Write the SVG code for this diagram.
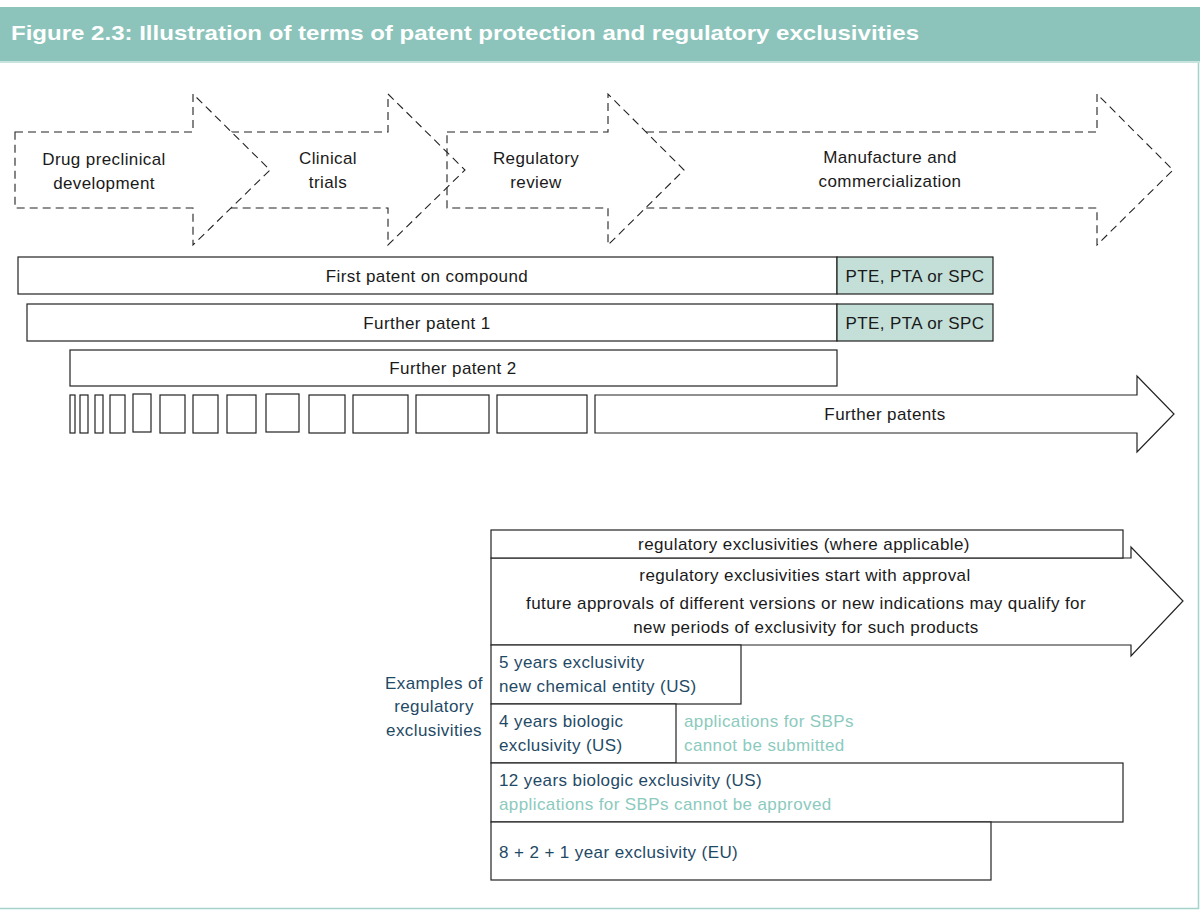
<svg xmlns="http://www.w3.org/2000/svg" width="1200" height="911" viewBox="0 0 1200 911">
<style>
.t{font-family:"Liberation Sans",Arial,sans-serif;font-size:17px;letter-spacing:0.4px;fill:#1a1a1a}
.c{text-anchor:middle}
.d{fill:#fff;stroke:#222;stroke-width:1.1;stroke-dasharray:8,5}
.b{fill:#fff;stroke:#222;stroke-width:1.2}
.p{fill:#c3dfd8;stroke:#222;stroke-width:1.2}
.n{fill:#1f4a66}
.l{fill:#8ccabe}
</style>
<rect x="0" y="0" width="1200" height="911" fill="#fff"/>
<rect x="0" y="7" width="1200" height="54" fill="#8cc4bb"/>
<rect x="0" y="61" width="1200" height="2" fill="#c7e4df"/>
<path d="M1198.5,63 V908.5 H0" fill="none" stroke="#a3d3ca" stroke-width="1.5"/>
<text x="11" y="40" font-family="Liberation Sans,Arial,sans-serif" font-weight="bold" font-size="21" fill="#fff" textLength="908" lengthAdjust="spacingAndGlyphs">Figure 2.3: Illustration of terms of patent protection and regulatory exclusivities</text>

<g id="phase-manufacture">
<path class="d" d="M646,132 L1097,132 L1097,94 L1173,170 L1097,245 L1097,208 L646,208"/>
<text class="t c" x="890" y="163">Manufacture and</text>
<text class="t c" x="890" y="187">commercialization</text>
</g>
<g id="phase-regulatory">
<path class="d" d="M447,132 L608,132 L608,94 L684,170 L608,245 L608,208 L447,208 Z"/>
<text class="t c" x="536" y="164">Regulatory</text>
<text class="t c" x="536" y="188">review</text>
</g>
<g id="phase-clinical">
<path class="d" style="fill:none" d="M231,132 L388,132 L388,94 L465,170 L388,245 L388,208 L231,208"/>
<text class="t c" x="328" y="164">Clinical</text>
<text class="t c" x="328" y="188">trials</text>
</g>
<g id="phase-preclinical">
<path class="d" d="M15,132 L193,132 L193,94 L270,170 L193,245 L193,208 L15,208 Z"/>
<text class="t c" x="104" y="165">Drug preclinical</text>
<text class="t c" x="104" y="189">development</text>
</g>

<g id="first-patent">
<rect class="b" x="18" y="257" width="819" height="37"/>
<text class="t c" x="427" y="282">First patent on compound</text>
</g>
<g id="pte-1">
<rect class="p" x="837" y="257" width="156" height="37"/>
<text class="t c" x="915" y="282">PTE, PTA or SPC</text>
</g>
<g id="further-patent-1">
<rect class="b" x="27" y="304" width="810" height="37"/>
<text class="t c" x="427" y="329">Further patent 1</text>
</g>
<g id="pte-2">
<rect class="p" x="837" y="304" width="156" height="37"/>
<text class="t c" x="915" y="329">PTE, PTA or SPC</text>
</g>
<g id="further-patent-2">
<rect class="b" x="70" y="350" width="767" height="36"/>
<text class="t c" x="453" y="374">Further patent 2</text>
</g>
<g id="small-patents">
<rect class="b" x="70" y="395" width="5" height="38"/>
<rect class="b" x="80" y="395" width="8" height="38"/>
<rect class="b" x="95" y="395" width="8" height="38"/>
<rect class="b" x="110" y="395" width="15" height="38"/>
<rect class="b" x="133" y="394" width="18" height="38"/>
<rect class="b" x="160" y="395" width="25" height="38"/>
<rect class="b" x="193" y="395" width="25" height="38"/>
<rect class="b" x="227" y="395" width="29" height="38"/>
<rect class="b" x="266" y="394" width="33" height="38"/>
<rect class="b" x="309" y="395" width="36" height="38"/>
<rect class="b" x="353" y="395" width="55" height="38"/>
<rect class="b" x="416" y="395" width="73" height="38"/>
<rect class="b" x="497" y="395" width="90" height="38"/>
</g>
<g id="further-patents">
<path class="b" d="M595,395 L1137,395 L1137,376 L1174,414 L1137,452 L1137,433 L595,433 Z"/>
<text class="t c" x="885" y="420">Further patents</text>
</g>

<g id="reg-arrow">
<path class="b" d="M491,558 L1131,558 L1131,547 L1183,601 L1131,656 L1131,645 L491,645 Z"/>
<text class="t c" x="805" y="581">regulatory exclusivities start with approval</text>
<text class="t c" x="806" y="609">future approvals of different versions or new indications may qualify for</text>
<text class="t c" x="806" y="633">new periods of exclusivity for such products</text>
</g>
<g id="reg-where-applicable">
<rect class="b" x="491" y="530" width="632" height="28"/>
<text class="t c" x="804" y="550">regulatory exclusivities (where applicable)</text>
</g>

<g id="examples-label">
<text class="t c n" x="434" y="689">Examples of</text>
<text class="t c n" x="434" y="712">regulatory</text>
<text class="t c n" x="434" y="736">exclusivities</text>
</g>
<g id="ex-nce">
<rect class="b" x="491" y="645" width="250" height="59"/>
<text class="t n" x="499" y="668">5 years exclusivity</text>
<text class="t n" x="499" y="692">new chemical entity (US)</text>
</g>
<g id="ex-4y">
<rect class="b" x="491" y="704" width="185" height="59"/>
<text class="t n" x="499" y="727">4 years biologic</text>
<text class="t n" x="499" y="751">exclusivity (US)</text>
</g>
<g id="ex-4y-note">
<text class="t l" x="684" y="727">applications for SBPs</text>
<text class="t l" x="684" y="751">cannot be submitted</text>
</g>
<g id="ex-12y">
<rect class="b" x="491" y="763" width="632" height="59"/>
<text class="t n" x="499" y="786">12 years biologic exclusivity (US)</text>
<text class="t l" x="499" y="810">applications for SBPs cannot be approved</text>
</g>
<g id="ex-eu">
<rect class="b" x="491" y="822" width="500" height="58"/>
<text class="t n" x="499" y="858">8 + 2 + 1 year exclusivity (EU)</text>
</g>
</svg>
